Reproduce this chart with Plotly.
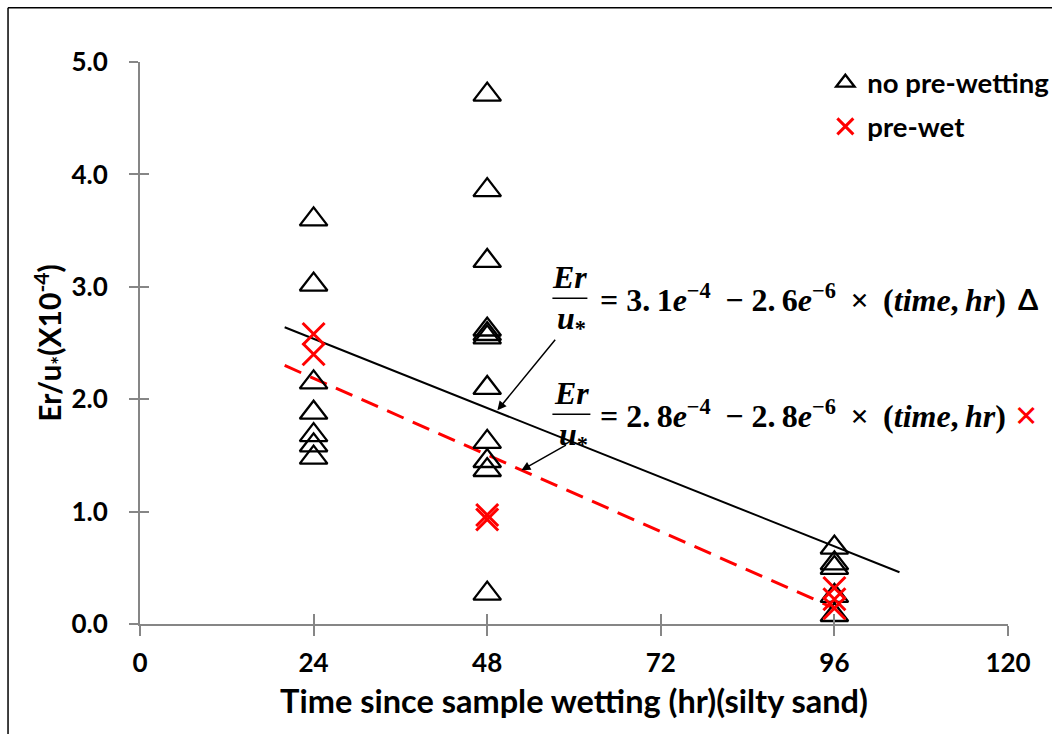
import plotly.graph_objects as go

# ---------------- data ----------------
time_no_prewet = [24, 24, 24, 24, 24, 24, 24,
                  48, 48, 48, 48, 48, 48, 48, 48, 48, 48, 48,
                  96, 96, 96, 96, 96]
er_no_prewet = [3.60, 3.02, 2.15, 1.88, 1.68, 1.59, 1.48,
                4.71, 3.86, 3.23, 2.62, 2.58, 2.55, 2.10, 1.62, 1.45, 1.37, 0.27,
                0.68, 0.54, 0.50, 0.25, 0.08]

time_prewet = [24, 24, 48, 48, 96, 96, 96]
er_prewet = [2.58, 2.40, 0.97, 0.93, 0.32, 0.22, 0.14]

trend_no_x = [20, 105]
trend_no_y = [2.64, 0.46]
trend_pre_x = [20, 96]
trend_pre_y = [2.30, 0.14]

x_ticks = [0, 24, 48, 72, 96, 120]
y_ticks = [0.0, 1.0, 2.0, 3.0, 4.0, 5.0]

# ---------------- pixel helpers for layout placement ----------------
X0, X1 = 139.5, 1007.7
Y0, Y1 = 623.7, 61.7
def pxp(px):
    return (px - X0) / (X1 - X0)
def pyp(py):
    return (Y0 - py) / (Y0 - Y1)

AX = "#868686"
SANS = "Lato, Open Sans, sans-serif"
fig = go.Figure()

fig.add_trace(go.Scatter(x=trend_no_x, y=trend_no_y, mode="lines",
                         line=dict(color="black", width=2), showlegend=False,
                         hoverinfo="skip"))
fig.add_trace(go.Scatter(x=trend_pre_x, y=trend_pre_y, mode="lines",
                         line=dict(color="#FF0000", width=3, dash="18px,10px"),
                         showlegend=False, hoverinfo="skip"))
fig.add_trace(go.Scatter(x=time_no_prewet, y=er_no_prewet, mode="markers",
                         name="no pre-wetting", legendgroup="a", cliponaxis=False,
                         marker=dict(symbol="triangle-up-open", size=24,
                                     color="black", line=dict(width=2.3, color="black"))))
fig.add_trace(go.Scatter(x=time_prewet, y=er_prewet, mode="markers",
                         name="pre-wet", legendgroup="b", cliponaxis=False,
                         marker=dict(symbol="x-thin-open", size=22,
                                     color="#FF0000", line=dict(width=3, color="#FF0000"))))
# invisible trace for overlay axes (crossing ticks)
fig.add_trace(go.Scatter(x=[], y=[], xaxis="x2", yaxis="y2", showlegend=False))

tickfont = dict(family=SANS, size=26, color="black", weight="bold")

fig.update_layout(
    width=1052, height=734,
    margin=dict(l=X0, r=1052 - X1, t=Y1, b=734 - Y0, autoexpand=False),
    paper_bgcolor="white", plot_bgcolor="white",
    xaxis=dict(range=[0, 120], tickvals=x_ticks, ticktext=[str(v) for v in x_ticks],
               showgrid=False, zeroline=False, showline=True, linecolor=AX, linewidth=2,
               ticks="outside", ticklen=10, tickwidth=2, tickcolor=AX,
               ticklabelstandoff=5, tickfont=tickfont, automargin=False,
               title=dict(text="Time since sample wetting (hr)(silty sand)",
                          font=dict(family=SANS, size=32.5, color="black", weight="bold"),
                          standoff=13)),
    yaxis=dict(range=[0, 5], tickvals=y_ticks, ticktext=[f"{v:.1f}" for v in y_ticks],
               showgrid=False, zeroline=False, showline=True, linecolor=AX, linewidth=2,
               ticks="outside", ticklen=9, tickwidth=2, tickcolor=AX,
               ticklabelstandoff=16, tickfont=tickfont, automargin=False,
               title=dict(text="Er/u<sub>*</sub>(X10<sup>-4</sup>)",
                          font=dict(family=SANS, size=30, color="black", weight="bold"),
                          standoff=0)),
    xaxis2=dict(overlaying="x", anchor="y2", range=[0, 120], tickvals=x_ticks,
                showticklabels=False, showgrid=False, zeroline=False, showline=False,
                ticks="inside", ticklen=10, tickwidth=2, tickcolor=AX),
    yaxis2=dict(overlaying="y", anchor="x2", side="left", range=[0, 5], tickvals=y_ticks,
                showticklabels=False, showgrid=False, zeroline=False, showline=False,
                ticks="inside", ticklen=9, tickwidth=2, tickcolor=AX),
    legend=dict(x=pxp(823), y=pyp(58), xanchor="left", yanchor="top",
                bgcolor="rgba(0,0,0,0)", traceorder="grouped",
                font=dict(family=SANS, size=27.5, color="black", weight="bold"),
                tracegroupgap=5, itemwidth=34),
    showlegend=True,
)

# outer chart border (left and top)
fig.add_shape(type="line", xref="paper", yref="paper",
              x0=pxp(7.5), x1=pxp(7.5), y0=pyp(7.5), y1=pyp(740),
              line=dict(color="black", width=1.5))
fig.add_shape(type="line", xref="paper", yref="paper",
              x0=pxp(7.5), x1=pxp(1060), y0=pyp(7.5), y1=pyp(7.5),
              line=dict(color="black", width=1.5))

eqfont = dict(family="Liberation Serif, DejaVu Serif, serif", size=32, color="black",
              weight="bold")
SP = "\u2009"

def equation(cy, rhs, tail, tail_color, bar_x0, bar_x1):
    cx = (bar_x0 + bar_x1) / 2
    fig.add_annotation(x=pxp(cx), y=pyp(cy - 21), xref="paper", yref="paper",
                       text="<i>Er</i>", showarrow=False, font=eqfont)
    fig.add_shape(type="line", xref="paper", yref="paper", x0=pxp(bar_x0), x1=pxp(bar_x1),
                  y0=pyp(cy), y1=pyp(cy), line=dict(color="black", width=1.5))
    fig.add_annotation(x=pxp(cx + 2), y=pyp(cy + 22), xref="paper", yref="paper",
                       text="<i>u</i><sub>*</sub>", showarrow=False, font=eqfont)
    fig.add_annotation(x=pxp(598), y=pyp(cy), xref="paper", yref="paper", xanchor="left",
                       text=rhs, showarrow=False, font=eqfont)
    fig.add_annotation(x=pxp(1040), y=pyp(cy), xref="paper", yref="paper",
                       text=tail, showarrow=False,
                       font=dict(family="Lato, DejaVu Sans, sans-serif", size=29,
                                 color=tail_color, weight="bold"))

def rhs_text(a, b, c, d):
    return (f"= {a}.{SP}{b}<i>e</i><sup>−4</sup>{SP} − {c}.{SP}{d}<i>e</i>"
            f"<sup>−6</sup>{SP} ×{SP} (<i>time</i>,{SP}<i>hr</i>)")

equation(298, rhs_text(3, 1, 2, 6), "Δ", "black", 552, 587)
equation(414, rhs_text(2, 8, 2, 8), "✕", "#FF0000", 552, 590)

# arrows (head position in paper coords, tail offset in pixels)
fig.add_annotation(x=pxp(497), y=pyp(410), ax=59, ay=-72, xref="paper", yref="paper",
                   axref="pixel", ayref="pixel", showarrow=True,
                   arrowhead=2, arrowsize=1.2, arrowwidth=1.5, arrowcolor="black", text="")
fig.add_annotation(x=pxp(521), y=pyp(470), ax=46, ay=-26, xref="paper", yref="paper",
                   axref="pixel", ayref="pixel", showarrow=True,
                   arrowhead=2, arrowsize=1.2, arrowwidth=1.5, arrowcolor="black", text="")

fig.write_html("out.html")
